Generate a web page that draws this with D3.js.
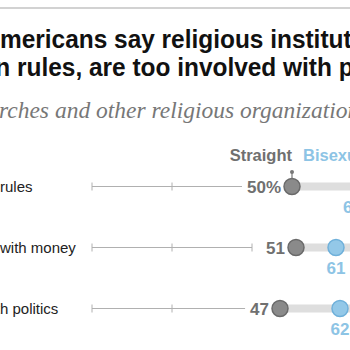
<!DOCTYPE html>
<html>
<head>
<meta charset="utf-8">
<script src="https://cdn.jsdelivr.net/npm/d3@7"></script>
<style>
  body { margin: 0; background: #fff; }
  svg { display: block; }
</style>
</head>
<body>
<div id="chart"></div>
<script>
// data
const titleLines = ["Most LGB Americans say religious institutions are too focused",
                    "on rules, are too involved with politics"];
const titleCuts = ["mericans", "n rules"];   // part of each line seen at the left edge
const subtitle = "% saying churches and other religious organizations ...";
const subtitleCut = "rches";

const rows = ["Are too focused on rules", "Are too concerned with money", "Are too involved with politics"];
const rowCuts = ["rules", "with money", "h politics"];
const seriesNames = ["Straight", "Bisexual", "Gay or lesbian"];
const straight = [50, 51, 47];
const bisexual = [67, 61, 62];
const gayLesbian = [74, 72, 75]; // past the right edge, only the bar shows
const axisTicks = [0, 20, 40];

const W = 350, H = 350;
const grey = "#707070", blue = "#8dc4e5";

const svg = d3.select("#chart").append("svg")
    .attr("width", W).attr("height", H);

// rule at top
svg.append("line")
    .attr("x1", 0).attr("x2", W).attr("y1", 8).attr("y2", 8)
    .attr("stroke", "#d2d2d2").attr("stroke-width", 2);

// put the substring `cut` at x = shift
function alignCut(sel, full, cut, shift) {
    let i = full.indexOf(cut);
    let off = i > 0 ? sel.node().getSubStringLength(0, i) : 0;
    sel.attr("x", -off + (shift || 0));
}

let tg = svg.append("g").attr("transform", "scale(0.94,1)");
titleLines.forEach((t, i) => {
    let txt = tg.append("text")
        .attr("y", 48 + i * 28)
        .attr("font-family", "Liberation Sans, Arial, sans-serif")
        .attr("font-weight", "bold")
        .attr("font-size", 26)
        .attr("fill", "#111")
        .text(t);
    alignCut(txt, t, titleCuts[i], i == 1 ? -5 : 0);
});

let sub = svg.append("text")
    .attr("y", 118)
    .attr("font-family", "Liberation Serif, serif")
    .attr("font-style", "italic")
    .attr("font-size", 23.5)
    .attr("fill", "#777")
    .text(subtitle);
alignCut(sub, subtitle, subtitleCut, -1);

const x = d3.scaleLinear().domain([0, 100]).range([92, 492]);
const y = d3.scalePoint().domain(rows).range([186.5, 308.5]);

const data = rows.map((r, i) => ({
    row: r, cut: rowCuts[i],
    s: straight[i], b: bisexual[i], g: gayLesbian[i]
}));

// row labels
data.forEach(d => {
    let t = svg.append("text")
        .attr("y", y(d.row) + 5)
        .attr("font-family", "Liberation Sans, Arial, sans-serif")
        .attr("font-size", 15)
        .attr("fill", "#222")
        .text(d.row);
    alignCut(t, d.row, d.cut);
});

// range bars
svg.selectAll(".bar").data(data).enter().append("line")
    .attr("x1", d => x(d.s)).attr("x2", d => x(Math.max(d.b, d.g)))
    .attr("y1", d => y(d.row)).attr("y2", d => y(d.row))
    .attr("stroke", "#dedede").attr("stroke-width", 8);

// straight value labels, then the thin axis up to the label
data.forEach((d, i) => {
    let lab = svg.append("text")
        .attr("x", x(d.s) - 11)
        .attr("y", y(d.row) + 6)
        .attr("text-anchor", "end")
        .attr("font-family", "Liberation Sans, Arial, sans-serif")
        .attr("font-weight", "bold")
        .attr("font-size", 17)
        .attr("fill", grey)
        .text(i == 0 ? d.s + "%" : d.s);
    let left = lab.node().getBBox().x;
    let end = Math.min(x(40), left - 5);
    let ag = svg.append("g").attr("transform", "translate(0," + y(d.row) + ")");
    ag.append("line").attr("x1", x(0)).attr("x2", end)
        .attr("stroke", "#b0b0b0").attr("stroke-width", 1);
    ag.selectAll(".tk").data(axisTicks.filter(t => x(t) <= end + 0.5)).enter()
        .append("line")
        .attr("x1", t => x(t)).attr("x2", t => x(t))
        .attr("y1", -4).attr("y2", 4)
        .attr("stroke", "#b0b0b0").attr("stroke-width", 1);
});

// gay/lesbian dots (off to the right)
svg.selectAll(".gdot").data(data).enter().append("circle")
    .attr("cx", d => x(d.g)).attr("cy", d => y(d.row)).attr("r", 8)
    .attr("fill", "#3f7fbf").attr("stroke", "#2f6aa5").attr("stroke-width", 1.5);

// bisexual dots + labels
svg.selectAll(".bdot").data(data).enter().append("circle")
    .attr("cx", d => x(d.b)).attr("cy", d => y(d.row)).attr("r", 8)
    .attr("fill", "#93c8e8").attr("stroke", "#6fb0da").attr("stroke-width", 1.5);
svg.selectAll(".blab").data(data).enter().append("text")
    .attr("x", d => x(d.b)).attr("y", d => y(d.row) + 26)
    .attr("text-anchor", "middle")
    .attr("font-family", "Liberation Sans, Arial, sans-serif")
    .attr("font-weight", "bold")
    .attr("font-size", 17)
    .attr("fill", blue)
    .text((d, i) => i == 0 ? d.b + "%" : d.b);

// straight dots
svg.selectAll(".sdot").data(data).enter().append("circle")
    .attr("cx", d => x(d.s)).attr("cy", d => y(d.row)).attr("r", 8)
    .attr("fill", "#8a8a8a").attr("stroke", "#6a6a6a").attr("stroke-width", 1.5);

// legend
const lx = x(straight[0]), ly = y(rows[0]);
svg.append("text")
    .attr("x", lx).attr("y", 161)
    .attr("text-anchor", "end")
    .attr("font-family", "Liberation Sans, Arial, sans-serif")
    .attr("font-weight", "bold").attr("font-size", 16.5)
    .attr("fill", grey).text(seriesNames[0]);
svg.append("text")
    .attr("x", lx + 11).attr("y", 161)
    .attr("font-family", "Liberation Sans, Arial, sans-serif")
    .attr("font-weight", "bold").attr("font-size", 16.5)
    .attr("fill", blue).text(seriesNames[1]);
svg.append("line")
    .attr("x1", lx).attr("x2", lx).attr("y1", 172).attr("y2", ly - 8)
    .attr("stroke", "#777").attr("stroke-width", 1.2);
svg.append("circle")
    .attr("cx", lx).attr("cy", 172).attr("r", 2).attr("fill", "#777");
</script>
</body>
</html>
